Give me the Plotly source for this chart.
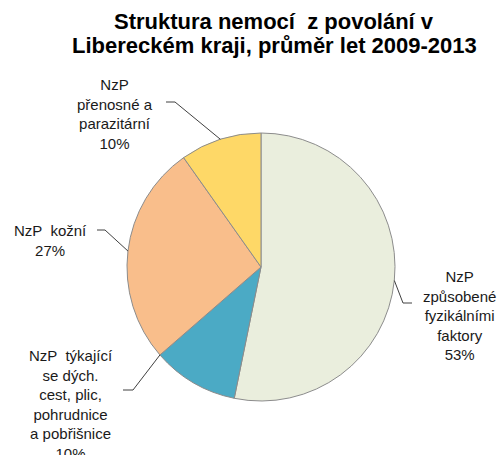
import math
import plotly.graph_objects as go

# ---- data ----
categories = [
    "NzP způsobené fyzikálními faktory",
    "NzP týkající se dých. cest, plic, pohrudnice a pobřišnice",
    "NzP kožní",
    "NzP přenosné a parazitární",
]
label_lines = [
    "NzP<br>způsobené<br>fyzikálními<br>faktory",
    "NzP  týkající<br>se dých.<br>cest, plic,<br>pohrudnice<br>a pobřišnice",
    "NzP  kožní",
    "NzP<br>přenosné a<br>parazitární",
]
shares = [53.2, 10.4, 26.6, 9.8]
colors = ["#EAEEDD", "#4BAAC5", "#F9BE8B", "#FED867"]
title_lines = ["Struktura nemocí  z povolání v", "Libereckém kraji, průměr let 2009-2013"]

# ---- layout constants (pixels) ----
W, H = 503, 455
CX, CY, R = 261, 267, 134
label_pos = [(459, 315), (71, 404), (50, 240), (115, 114)]
elbow_a = [(412, 303), (123, 390), (97, 230), (166, 102)]
elbow_b = [(403, 303), (133, 390), (105, 230), (175, 102)]
anchor_frac = [0.5, 1.0, 0.5, 0.5]


def px(x):
    return x / W


def py(y):
    return 1 - y / H


fig = go.Figure()
fig.add_trace(go.Pie(
    labels=categories,
    values=shares,
    sort=False,
    direction="clockwise",
    rotation=0,
    textinfo="none",
    marker=dict(colors=colors, line=dict(color="#8C8C8C", width=1)),
    domain=dict(x=[px(CX - R), px(CX + R)], y=[py(CY + R), py(CY - R)]),
    showlegend=False,
))

total = sum(shares)
cum = 0.0
shapes = []
annotations = []
for i, v in enumerate(shares):
    frac_mid = (cum + v * anchor_frac[i]) / total
    cum += v
    ang = 2 * math.pi * frac_mid
    ex = CX + R * math.sin(ang)
    ey = CY - R * math.cos(ang)
    a, b = elbow_a[i], elbow_b[i]
    shapes.append(dict(
        type="path", xref="paper", yref="paper",
        path=f"M {px(a[0])} {py(a[1])} L {px(b[0])} {py(b[1])} L {px(ex)} {py(ey)}",
        line=dict(color="#404040", width=1),
    ))
    pct = round(v / total * 100)
    lx, ly = label_pos[i]
    annotations.append(dict(
        x=px(lx), y=py(ly), xref="paper", yref="paper",
        text=f"{label_lines[i]}<br>{pct}%", showarrow=False,
        xanchor="center", yanchor="middle", align="center",
        font=dict(family="Liberation Sans, Arial, sans-serif", size=15, color="#1A1A1A"),
    ))

for j, (t, y) in enumerate(zip(title_lines, [21, 46])):
    annotations.append(dict(
        x=px(274), y=py(y), xref="paper", yref="paper",
        text=f"<b>{t}</b>", showarrow=False, xanchor="center", yanchor="middle",
        font=dict(family="Liberation Sans, Arial, sans-serif", size=22, color="#000000"),
    ))

fig.update_layout(
    width=W, height=H,
    margin=dict(l=0, r=0, t=0, b=0),
    paper_bgcolor="white", plot_bgcolor="white",
    shapes=shapes, annotations=annotations,
)
fig.write_html(
    "out.html",
    config={"displayModeBar": False},
    post_script="document.body.style.margin='0';document.body.style.overflow='hidden';",
)
